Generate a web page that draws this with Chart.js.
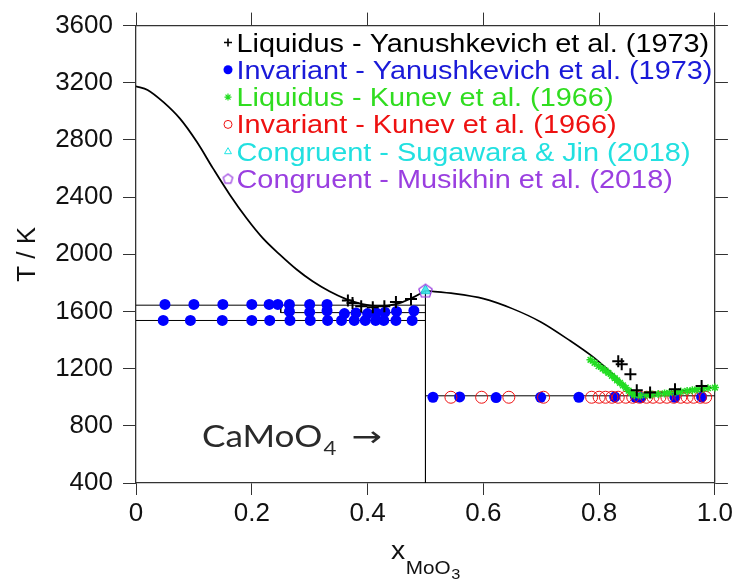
<!DOCTYPE html>
<html>
<head>
<meta charset="utf-8">
<script src="https://cdn.jsdelivr.net/npm/chart.js@4.4.1/dist/chart.umd.min.js"></script>
<style>
  html, body { margin: 0; padding: 0; background: #fff; }
  canvas { display: block; }
</style>
</head>
<body>
<canvas id="c" width="736" height="582"></canvas>
<script>
// ---- axis ticks ----
const xTicks = [0, 0.2, 0.4, 0.6, 0.8, 1.0];
const yTicks = [400, 800, 1200, 1600, 2000, 2400, 2800, 3200, 3600];

// ---- calculated liquidus (CaO side up to CaMoO4) ----
const calcLeftX = [0, 0.02, 0.047, 0.076, 0.105, 0.133, 0.162, 0.191, 0.219, 0.248, 0.277, 0.305, 0.334, 0.363, 0.391, 0.42, 0.449, 0.477, 0.5];
const calcLeftT = [3175, 3150, 3066, 2949, 2787, 2601, 2417, 2252, 2113, 1999, 1895, 1811, 1741, 1686, 1651, 1637, 1651, 1695, 1745];

// ---- calculated liquidus (CaMoO4 to MoO3) ----
const calcRightX = [0.5, 0.55, 0.6, 0.65, 0.7, 0.75, 0.79, 0.83, 0.865, 0.9, 0.95, 1.0];
const calcRightT = [1745, 1725, 1690, 1620, 1525, 1395, 1280, 1140, 1012, 1025, 1048, 1070];

// ---- invariant / compound lines ----
const eutUpperX = [0, 0.5];          const eutUpperT = [1644, 1644];
const perStepX  = [0.25, 0.25, 0.5]; const perStepT  = [1644, 1592, 1592];
const eutLowerX = [0, 0.5];          const eutLowerT = [1537, 1537];
const compoundX = [0.5, 0.5];        const compoundT = [1745, 400];
const eutRightX = [0.5, 1.0];        const eutRightT = [1010, 1010];

// ---- Liquidus - Yanushkevich et al. (1973) ----
const liqYanX = [0.366, 0.374, 0.389, 0.409, 0.429, 0.449, 0.475, 0.833, 0.839, 0.854, 0.865, 0.888, 0.931, 0.977];
const liqYanT = [1677, 1660, 1637, 1630, 1637, 1667, 1688, 1252, 1230, 1161, 1049, 1033, 1056, 1079];

// ---- Invariant - Yanushkevich et al. (1973) ----
const invYanX = [
  0.05, 0.10, 0.15, 0.20, 0.23, 0.245, 0.265, 0.30, 0.33,
  0.265, 0.30, 0.33, 0.36, 0.38, 0.40, 0.415, 0.43, 0.45, 0.48,
  0.047, 0.094, 0.149, 0.20, 0.231, 0.266, 0.301, 0.331, 0.355, 0.377, 0.396, 0.414, 0.428, 0.449, 0.477,
  0.513, 0.559, 0.622, 0.699, 0.765, 0.827, 0.863, 0.872, 0.931, 0.977
];
const invYanT = [
  1649, 1649, 1649, 1649, 1649, 1649, 1649, 1649, 1649,
  1600, 1595, 1605, 1585, 1590, 1585, 1590, 1595, 1600, 1605,
  1537, 1537, 1537, 1537, 1537, 1537, 1537, 1537, 1537, 1537, 1537, 1537, 1537, 1537, 1537,
  1000, 1002, 998, 1000, 1000, 1002, 1000, 998, 1000, 1002
];

// ---- Liquidus - Kunev et al. (1966) ----
const liqKunX = [0.785, 0.792, 0.799, 0.806, 0.811, 0.816, 0.822, 0.827, 0.831, 0.836, 0.841, 0.846, 0.851, 0.856, 0.861,
                 0.871, 0.882, 0.891, 0.902, 0.913, 0.921, 0.932, 0.941, 0.952, 0.961, 0.969, 0.979, 0.988, 1.0];
const liqKunT = [1262, 1241, 1218, 1200, 1186, 1170, 1150, 1133, 1118, 1101, 1083, 1066, 1046, 1030, 1016,
                 1012, 1016, 1019, 1022, 1027, 1031, 1035, 1040, 1044, 1049, 1054, 1060, 1063, 1068];

// ---- Invariant - Kunev et al. (1966) ----
const invKunX = [0.544, 0.597, 0.644, 0.704, 0.787, 0.800, 0.811, 0.822, 0.833, 0.846, 0.858, 0.870, 0.882,
                 0.893, 0.905, 0.917, 0.929, 0.941, 0.952, 0.963, 0.975, 0.984];
const invKunT = [1000, 1000, 1000, 1000, 1000, 1000, 1000, 1000, 1000, 1000, 1000, 1000, 1000,
                 1000, 1000, 1000, 1000, 1000, 1000, 1000, 1000, 1000];

// ---- congruent melting of CaMoO4 ----
const congSugX = [0.5]; const congSugT = [1745];
const congMusX = [0.5]; const congMusT = [1742];

const pts = (xs, ts) => xs.map((x, i) => ({ x: x, y: ts[i] }));

// pentagon marker
function pentagon(r, color, lw, fill) {
  const s = Math.ceil(2 * r + lw * 2 + 2);
  const cv = document.createElement('canvas');
  cv.width = s; cv.height = s;
  const g = cv.getContext('2d');
  g.beginPath();
  for (let i = 0; i < 5; i++) {
    const a = -Math.PI / 2 + i * 2 * Math.PI / 5;
    const px = s / 2 + r * Math.cos(a), py = s / 2 + r * Math.sin(a);
    if (i) g.lineTo(px, py); else g.moveTo(px, py);
  }
  g.closePath();
  if (fill) { g.fillStyle = fill; g.fill(); }
  g.strokeStyle = color; g.lineWidth = lw; g.stroke();
  return cv;
}

const C = {
  black: '#000000',
  blue: '#0000ff',
  green: '#22dd22',
  red: '#ee1111',
  cyan: '#22e6e6',
  purple: '#9a3fe0'
};
const pentData = pentagon(7, C.purple, 1.3, null);
const pentLegend = pentagon(5, C.purple, 1.2, null);

const lineDs = (xs, ts, w, tension) => ({
  data: pts(xs, ts), showLine: true, pointRadius: 0, borderColor: '#000', borderWidth: w,
  tension: tension, order: 7
});

const legendItems = [
  { text: 'Liquidus - Yanushkevich et al. (1973)', color: '#000000', mark: { pointStyle: 'cross', radius: 4, borderWidth: 1.6 }, stroke: C.black, fill: C.black },
  { text: 'Invariant - Yanushkevich et al. (1973)', color: '#1a1ad8', mark: { pointStyle: 'circle', radius: 4.5, borderWidth: 0 }, stroke: C.blue, fill: C.blue },
  { text: 'Liquidus - Kunev et al. (1966)', color: '#30dd20', mark: { pointStyle: 'star', radius: 3.5, borderWidth: 1.2 }, stroke: C.green, fill: C.green },
  { text: 'Invariant - Kunev et al. (1966)', color: '#ee1111', mark: { pointStyle: 'circle', radius: 4, borderWidth: 1 }, stroke: C.red, fill: 'rgba(0,0,0,0)' },
  { text: 'Congruent - Sugawara & Jin (2018)', color: '#22e0e0', mark: { pointStyle: 'triangle', radius: 4, borderWidth: 1 }, stroke: C.cyan, fill: 'rgba(0,0,0,0)' },
  { text: 'Congruent - Musikhin et al. (2018)', color: '#9a3fe0', mark: { pointStyle: pentLegend, radius: 5, borderWidth: 1 }, stroke: C.purple, fill: 'rgba(0,0,0,0)' }
];

const annotations = {
  id: 'annotations',
  afterDraw(chart) {
    const ctx = chart.ctx;
    const sans = '"Liberation Sans", Arial, sans-serif';
    ctx.save();

    // legend
    const lx = 228, tx = 236.5, y0 = 51.5, dy = 27.3;
    legendItems.forEach((it, i) => {
      const base = y0 + i * dy;
      const cy = base - 9;
      ctx.save();
      ctx.strokeStyle = it.stroke; ctx.fillStyle = it.fill;
      ctx.lineWidth = it.mark.borderWidth || 1;
      Chart.helpers.drawPoint(ctx, Object.assign({ rotation: 0 }, it.mark), lx, cy);
      ctx.restore();
      ctx.save();
      ctx.translate(tx, base);
      ctx.scale(1.11, 1);
      ctx.font = '26px ' + sans;
      ctx.fillStyle = it.color;
      ctx.textBaseline = 'alphabetic';
      ctx.textAlign = 'left';
      ctx.fillText(it.text, 0, 0);
      ctx.restore();
    });

    // CaMoO4 label
    ctx.save();
    ctx.translate(202, 446.5);
    ctx.scale(1.17, 1);
    ctx.fillStyle = '#2a2a2a';
    ctx.textBaseline = 'alphabetic';
    ctx.font = '30px Lato, "Open Sans", sans-serif';
    ctx.fillText('CaMoO', 0, 0);
    let w = ctx.measureText('CaMoO').width;
    ctx.font = '19px Lato, "Open Sans", sans-serif';
    ctx.fillText('4', w + 1, 8.5);
    w += ctx.measureText('4').width + 14;
    ctx.restore();
    ctx.save();
    ctx.translate(202 + w * 1.17, 445.5);
    ctx.scale(1.3, 1);
    ctx.fillStyle = '#2a2a2a';
    ctx.font = '28px "Noto Sans", "DejaVu Sans", sans-serif';
    ctx.fillText('\u2192', 0, 0);
    ctx.restore();

    // x axis title with subscripts
    ctx.save();
    ctx.translate(391, 559);
    ctx.scale(1.09, 1);
    ctx.fillStyle = '#111';
    ctx.textBaseline = 'alphabetic';
    ctx.font = '26px ' + sans;
    ctx.fillText('x', 0, 0);
    let xw = ctx.measureText('x').width;
    ctx.font = '19px ' + sans;
    ctx.fillText('MoO', xw + 0.5, 15);
    xw += ctx.measureText('MoO').width + 1;
    ctx.font = '15px ' + sans;
    ctx.fillText('3', xw, 20);
    ctx.restore();

    ctx.restore();
  }
};

const tickFont = { family: '"Liberation Sans", Arial, sans-serif', size: 26 };
const gridOpts = { drawOnChartArea: false, drawTicks: true, tickLength: 12, color: '#333', lineWidth: 1 };
const borderOpts = { color: '#333', width: 1.3 };

new Chart(document.getElementById('c'), {
  type: 'scatter',
  data: {
    datasets: [
      lineDs(calcLeftX, calcLeftT, 1.8, 0.35),
      lineDs(calcRightX, calcRightT, 1.6, 0.3),
      lineDs(eutUpperX, eutUpperT, 1, 0),
      lineDs(perStepX, perStepT, 1, 0),
      lineDs(eutLowerX, eutLowerT, 1, 0),
      lineDs(compoundX, compoundT, 1, 0),
      lineDs(eutRightX, eutRightT, 1, 0),
      { label: 'Invariant - Yanushkevich et al. (1973)', data: pts(invYanX, invYanT), pointStyle: 'circle',
        pointRadius: 5.5, pointBackgroundColor: C.blue, pointBorderColor: C.blue, pointBorderWidth: 0, order: 5 },
      { label: 'Invariant - Kunev et al. (1966)', data: pts(invKunX, invKunT), pointStyle: 'circle',
        pointRadius: 6, pointBackgroundColor: 'rgba(0,0,0,0)', pointBorderColor: C.red, pointBorderWidth: 1, order: 4 },
      { label: 'Liquidus - Kunev et al. (1966)', data: pts(liqKunX, liqKunT), pointStyle: 'star', clip: false,
        pointRadius: 4, pointBackgroundColor: C.green, pointBorderColor: C.green, pointBorderWidth: 1.5, order: 3 },
      { label: 'Liquidus - Yanushkevich et al. (1973)', data: pts(liqYanX, liqYanT), pointStyle: 'cross',
        pointRadius: 6, pointBorderColor: C.black, pointBorderWidth: 2, order: 2 },
      { label: 'Congruent - Sugawara & Jin (2018)', data: pts(congSugX, congSugT), pointStyle: 'triangle',
        pointRadius: 6, pointBackgroundColor: 'rgba(60,230,235,0.9)', pointBorderColor: '#22c8d8', pointBorderWidth: 1, order: 1, clip: false },
      { label: 'Congruent - Musikhin et al. (2018)', data: pts(congMusX, congMusT), pointStyle: pentData,
        pointRadius: 7, order: 0, clip: false }
    ]
  },
  options: {
    responsive: false,
    animation: false,
    devicePixelRatio: 1,
    layout: { padding: 0 },
    plugins: { legend: { display: false }, tooltip: { enabled: false } },
    scales: {
      x: {
        type: 'linear', position: 'bottom', min: 0, max: 1,
        afterBuildTicks: s => { s.ticks = xTicks.map(v => ({ value: v })); },
        ticks: { font: tickFont, color: '#111', padding: 3, maxRotation: 0,
                 callback: v => (v === 0 ? '0' : v.toFixed(1)) },
        grid: gridOpts, border: borderOpts,
        afterFit: s => { s.height = 99; }
      },
      x2: {
        type: 'linear', position: 'top', min: 0, max: 1,
        afterBuildTicks: s => { s.ticks = xTicks.map(v => ({ value: v })); },
        ticks: { display: false },
        grid: Object.assign({}, gridOpts, { tickLength: 13 }), border: borderOpts,
        afterFit: s => { s.height = 23; }
      },
      y: {
        type: 'linear', position: 'left', min: 400, max: 3600,
        afterBuildTicks: s => { s.ticks = yTicks.map(v => ({ value: v })); },
        ticks: { font: tickFont, color: '#111', padding: 10, callback: v => String(v) },
        grid: Object.assign({}, gridOpts, { tickLength: 13 }), border: borderOpts,
        title: { display: true, text: 'T / K', color: '#111', font: tickFont, padding: { top: 12, bottom: 0 } },
        afterFit: s => { s.width = 136; }
      },
      y2: {
        type: 'linear', position: 'right', min: 400, max: 3600,
        afterBuildTicks: s => { s.ticks = yTicks.map(v => ({ value: v })); },
        ticks: { display: false },
        grid: Object.assign({}, gridOpts, { tickLength: 13 }), border: borderOpts,
        afterFit: s => { s.width = 19; }
      }
    }
  },
  plugins: [annotations]
});
</script>
</body>
</html>
